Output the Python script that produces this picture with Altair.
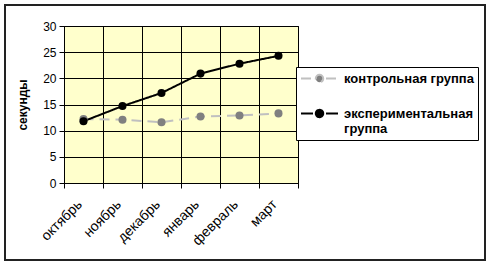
import altair as alt
import pandas as pd

months = ["октябрь", "ноябрь", "декабрь", "январь", "февраль", "март"]
control = [12.2, 12.1, 11.6, 12.7, 12.9, 13.3]
experimental = [11.8, 14.7, 17.2, 20.9, 22.8, 24.3]
series_names = ["контрольная группа", "экспериментальная группа"]
y_ticks = [0, 5, 10, 15, 20, 25, 30]

rows = []
for m, c, e in zip(months, control, experimental):
    rows.append({"month": m, "series": series_names[0], "value": c})
    rows.append({"month": m, "series": series_names[1], "value": e})
df = pd.DataFrame(rows)

FONT = "Liberation Sans"

x_enc = alt.X(
    "month:N", sort=months,
    scale=alt.Scale(paddingInner=0, paddingOuter=0),
    axis=alt.Axis(
        title=None, labelAngle=-45, labelAlign="right", labelBaseline="middle",
        labelPadding=14, labelOffset=-4, labelFontSize=14, labelColor="#000", labelFont=FONT,
        tickBand="extent", grid=True, gridColor="#000", gridWidth=1, gridOpacity=1,
        tickColor="#000", tickSize=5, domainColor="#000",
    ),
)
y_enc = alt.Y(
    "value:Q", scale=alt.Scale(domain=[0, 30], nice=False),
    axis=alt.Axis(
        title="секунды", values=y_ticks, labelFontSize=12, labelColor="#000",
        labelFont=FONT, titleFont=FONT, titleFontSize=12, titleFontWeight="bold",
        titleX=-42, titleY=78.5, titleAngle=-90, titleAlign="center", titleBaseline="middle",
        grid=True, gridColor="#000", gridWidth=1, gridOpacity=1,
        tickColor="#000", tickSize=5, domainColor="#000", labelPadding=3,
    ),
)

legend = alt.Legend(
    title=None, orient="none", legendX=232, legendY=41,
    labelFont=FONT, labelFontSize=13, labelFontWeight="bold", labelColor="#000",
    labelLimit=300, strokeColor="#000", fillColor="#fff", padding=4,
    symbolType="M-2.85,0H-1M1,0H2.85M0,-0.57A0.57,0.57,0,1,1,0,0.57A0.57,0.57,0,1,1,0,-0.57Z",
    symbolSize=169, symbolStrokeWidth=2, symbolOffset=12, labelOffset=17, rowPadding=18,
    labelExpr="datum.label == 'экспериментальная группа' ? ['экспериментальная', 'группа'] : datum.label",
)

stroke_scale = alt.Scale(domain=series_names, range=["#C0C0C0", "#000000"])
fill_scale = alt.Scale(domain=series_names, range=["#808080", "#000000"])
dash_scale = alt.Scale(domain=series_names, range=[[10, 6], [1, 0]])

lines = alt.Chart(df).mark_line(strokeWidth=2).encode(
    x=x_enc, y=y_enc,
    stroke=alt.Stroke("series:N", scale=stroke_scale, legend=legend),
    strokeDash=alt.StrokeDash("series:N", scale=dash_scale, legend=legend),
)
points = alt.Chart(df).mark_point(filled=True, size=65, opacity=1, shape="circle").encode(
    x=x_enc, y=y_enc,
    fill=alt.Fill("series:N", scale=fill_scale, legend=legend),
)

frame = alt.Chart(alt.Data(values=[{}])).mark_rect(
    fill=None, stroke="#222", strokeWidth=2, clip=False
).encode(
    x=alt.value(-59), x2=alt.value(421), y=alt.value(-21), y2=alt.value(234)
)

chart = alt.layer(lines, points, frame).properties(
    width=234, height=157,
    autosize=alt.AutoSizeParams(type="none"),
    padding={"left": 64, "top": 26, "right": 194, "bottom": 83},
    background="#ffffff",
).configure_view(
    fill="#FFFFCC", stroke="#000", strokeWidth=1
)

chart.save("out.html", embed_options={"renderer": "svg", "actions": False})
